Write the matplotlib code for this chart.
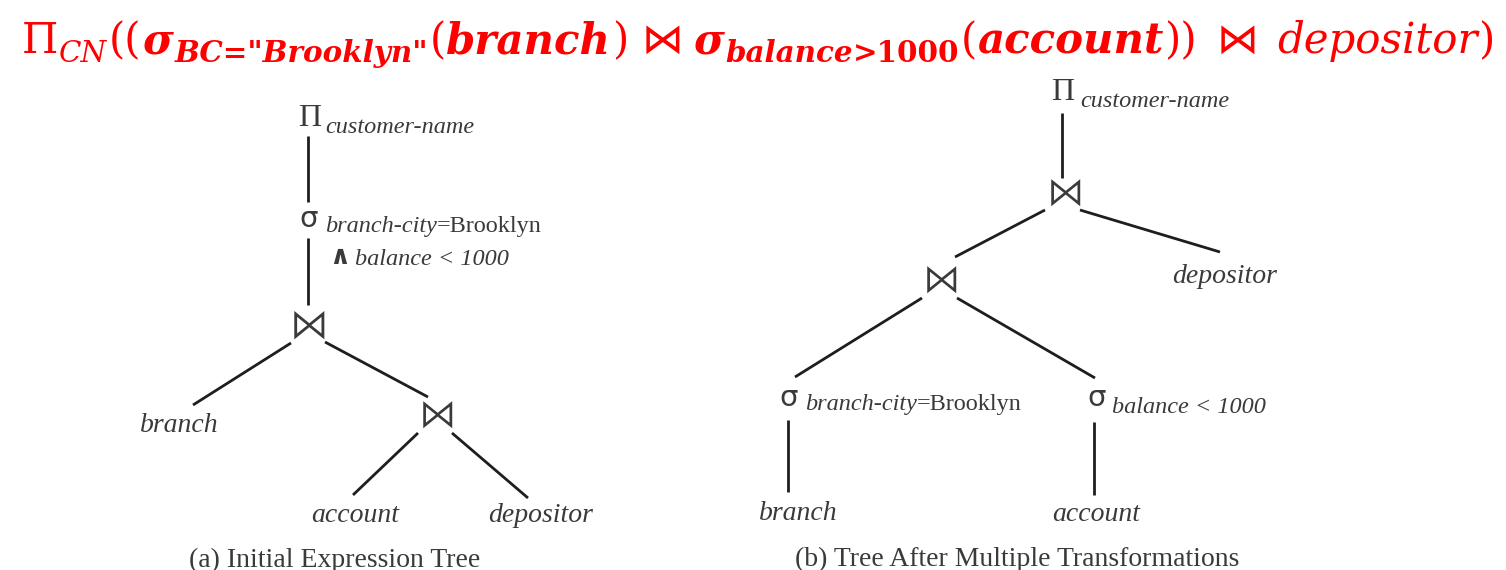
import matplotlib
matplotlib.use('Agg')
import matplotlib.pyplot as plt
from matplotlib.font_manager import FontProperties
from matplotlib.textpath import TextPath

W, H, DPI = 1506, 570, 100

RED = '#ff0000'
INK = '#3a3a3a'
EDGE = '#1e1e1e'
SERIF = 'Liberation Serif'
MATH = 'STIXGeneral'

# red heading: the query in relational algebra
# (text, family, style, weight, subscript, gap before in em)
TITLE_RUNS = [
    ('Π', 'DejaVu Serif', 'normal', 'normal', False, 0.0),
    ('CN', 'DejaVu Serif', 'italic', 'normal', True, 0.02),
    ('((', 'DejaVu Serif', 'normal', 'normal', False, 0.04),
    ('σ', 'DejaVu Serif', 'italic', 'bold', False, 0.02),
    ('BC="Brooklyn"', 'DejaVu Serif', 'italic', 'bold', True, 0.02),
    ('(', 'DejaVu Serif', 'normal', 'normal', False, 0.04),
    ('branch', 'DejaVu Serif', 'italic', 'bold', False, 0.02),
    (')', 'DejaVu Serif', 'normal', 'normal', False, 0.02),
    ('⋈', 'DejaVu Sans', 'normal', 'normal', False, 0.30),
    ('σ', 'DejaVu Serif', 'italic', 'bold', False, 0.25),
    ('balance', 'DejaVu Serif', 'italic', 'bold', True, 0.02),
    ('>1000', 'DejaVu Serif', 'normal', 'bold', True, 0.0),
    ('(', 'DejaVu Serif', 'normal', 'normal', False, 0.02),
    ('account', 'DejaVu Serif', 'italic', 'bold', False, 0.02),
    ('))', 'DejaVu Serif', 'normal', 'normal', False, 0.02),
    ('⋈', 'DejaVu Sans', 'normal', 'normal', False, 0.45),
    ('depositor', 'DejaVu Serif', 'italic', 'normal', False, 0.45),
    (')', 'DejaVu Serif', 'normal', 'normal', False, 0.02),
]

PROJ_ATTR = 'customer-name'
CITY_COND = [('branch-city', 'italic'), ('=Brooklyn', 'normal')]
BAL_COND = 'balance < 1000'
LEAVES = ['branch', 'account', 'depositor']
CAPTIONS = ['(a) Initial Expression Tree', '(b) Tree After Multiple Transformations']


fig = plt.figure(figsize=(W / DPI, H / DPI), dpi=DPI)
ax = fig.add_axes([0, 0, 1, 1])
ax.set_xlim(0, W)
ax.set_ylim(H, 0)
ax.axis('off')
renderer = fig.canvas.get_renderer()


def lay_runs(x0, base, runs, size, color):
    """Place runs of text one after another on a baseline, return them and the right edge."""
    em = size * DPI / 72
    x = x0
    texts = []
    for text, fam, style, weight, sub, gap in runs:
        x += gap * em
        t = ax.text(x, base + (0.22 * em if sub else 0), text, family=fam, style=style,
                    weight=weight, fontsize=size * (0.7 if sub else 1), color=color,
                    ha='left', va='baseline')
        x = t.get_window_extent(renderer).x1
        texts.append(t)
    return texts, x


def glyph(cx, cy, ch, target, fit='w', family=SERIF, weight='normal'):
    """Draw one symbol with its ink centred on (cx, cy), scaled to a target width/height in px."""
    fp = FontProperties(family=family, weight=weight)
    bb = TextPath((0, 0), ch, size=1, prop=fp).get_extents()
    em = target / (bb.width if fit == 'w' else bb.height)
    ax.text(cx - bb.width / 2 * em, cy + (bb.y0 + bb.y1) / 2 * em, ch, family=family,
            weight=weight, fontsize=em * 72 / DPI, color=INK, ha='left', va='baseline')


def join(cx, cy, w=28):
    glyph(cx, cy, '⋈', w, family=[MATH, 'DejaVu Sans'])


def select(cx, cy):
    glyph(cx, cy, 'σ', 16, family='DejaVu Sans')


def sub(x, base, parts, size=17.5):
    runs = [(s, SERIF, st, 'normal', False, 0.0) for s, st in parts]
    lay_runs(x, base, runs, size, INK)


def label(cx, base, s, size=20, style='italic'):
    ax.text(cx, base, s, family=SERIF, style=style, fontsize=size, color=INK,
            ha='center', va='baseline')


def edge(x0, y0, x1, y1):
    ax.plot([x0, x1], [y0, y1], color=EDGE, lw=2.0, solid_capstyle='butt')


# heading, fitted to the span it covers in the picture
size = 30
texts, right = lay_runs(22, 53, TITLE_RUNS, size, RED)
size *= (1492 - 22) / (right - 22)
for t in texts:
    t.remove()
lay_runs(22, 53, TITLE_RUNS, size, RED)

# (a) initial expression tree
glyph(309, 115, 'Π', 21, fit='h')
sub(325, 133, [(PROJ_ATTR, 'italic')])
edge(308, 136, 308, 202)
select(307, 219)
sub(325, 232, CITY_COND)
glyph(336, 256, '∧', 15, fit='h', family='DejaVu Sans', weight='bold')
sub(355, 265, [(BAL_COND, 'italic')])
edge(308, 238, 308, 305)
join(307, 325, 30)
edge(291, 343, 193, 405)
edge(325, 342, 428, 397)
label(179, 432, LEAVES[0])
join(435, 415, 29)
edge(418, 433, 353, 495)
edge(452, 433, 528, 498)
label(355, 522, LEAVES[1])
label(541, 522, LEAVES[2])
label(335, 567, CAPTIONS[0], style='normal')

# (b) tree after multiple transformations
glyph(1062, 90, 'Π', 21, fit='h')
sub(1080, 107, [(PROJ_ATTR, 'italic')])
edge(1062, 113, 1062, 178)
join(1063, 193, 29)
edge(1045, 210, 955, 257)
edge(1080, 210, 1220, 252)
label(1225, 283, LEAVES[2])
join(939, 280, 29)
edge(922, 298, 795, 377)
edge(957, 298, 1095, 378)
select(787, 398)
sub(805, 410, CITY_COND)
select(1095, 398)
sub(1112, 413, [(BAL_COND, 'italic')])
edge(788, 420, 788, 492)
edge(1094, 422, 1094, 495)
label(798, 520, LEAVES[0])
label(1096, 521, LEAVES[1])
label(1017, 566, CAPTIONS[1], style='normal')

fig.savefig('out.png', dpi=DPI)
